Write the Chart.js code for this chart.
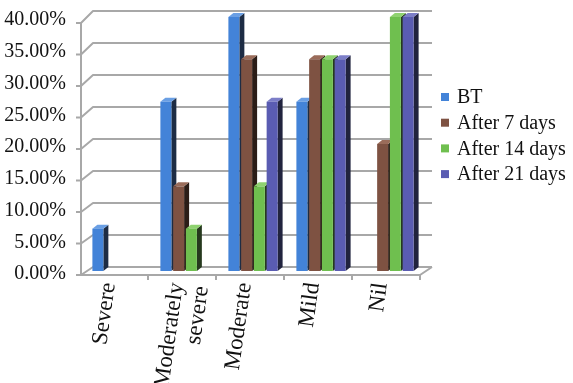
<!DOCTYPE html>
<html>
<head>
<meta charset="utf-8">
<script src="https://cdn.jsdelivr.net/npm/chart.js@4/dist/chart.umd.min.js"></script>
<style>
  html, body { margin: 0; padding: 0; background: #ffffff; }
  canvas { display: block; }
</style>
</head>
<body>
<canvas id="chart" width="573" height="383"></canvas>
<script>
// Severity categories on the x axis
const categories = ['Severe', ['Moderately', 'severe'], 'Moderate', 'Mild', 'Nil'];
const seriesNames = ['BT', 'After 7 days', 'After 14 days', 'After 21 days'];

// Percentage of patients in each category
const bt      = [6.67, 26.67, 40.00, 26.67, 0];
const after7  = [0,    13.33, 33.33, 33.33, 20.00];
const after14 = [0,     6.67, 13.33, 33.33, 40.00];
const after21 = [0,     0,    26.67, 33.33, 40.00];

// Value axis ticks
const yTickValues = [0, 5, 10, 15, 20, 25, 30, 35, 40];
const yTickLabels = ['0.00%', '5.00%', '10.00%', '15.00%', '20.00%', '25.00%', '30.00%', '35.00%', '40.00%'];

const faceColors = ['#4383d8', '#7e5242', '#6fbf4f', '#5a5cb2'];
const topColors  = ['#6a9fe4', '#9a6c5a', '#8fd270', '#7c7ec8'];
const sideColors = ['#1d2c44', '#2b1d17', '#26391e', '#21233e'];

const SERIF = "'Liberation Serif', 'Times New Roman', serif";
const DX = 5, DY = 4;   // depth offset of the bar side / top faces

// Back wall grid, left wall, floor, and the side/top faces of each bar
const depthPlugin = {
  id: 'depth',
  beforeDatasetsDraw(chart) {
    const ctx = chart.ctx;
    const ys = chart.scales.y;
    const a = chart.chartArea;
    const off = v => 4 + 2 * v / 40;
    const fx0 = a.left - 2, fx1 = a.right - 3;
    const bx0 = a.left + 10, bx1 = a.right + 9;

    ctx.save();
    ctx.strokeStyle = '#a8a8a8';
    ctx.lineWidth = 2;
    ctx.lineJoin = 'round';

    yTickValues.forEach(v => {
      const p = ys.getPixelForValue(v);
      ctx.beginPath();
      ctx.moveTo(fx0 - 5, p + off(v));
      ctx.lineTo(fx0, p + off(v));
      ctx.lineTo(bx0, p - off(v));
      ctx.lineTo(bx1, p - off(v));
      ctx.stroke();
    });

    // left axis
    ctx.beginPath();
    ctx.moveTo(fx0, ys.getPixelForValue(40) + off(40));
    ctx.lineTo(fx0, ys.getPixelForValue(0) + off(0));
    ctx.stroke();

    // floor front edge and right edge
    const p0 = ys.getPixelForValue(0);
    ctx.beginPath();
    ctx.moveTo(fx0, p0 + off(0));
    ctx.lineTo(fx1, p0 + off(0));
    ctx.lineTo(bx1, p0 - off(0));
    ctx.stroke();

    // category tick marks
    const n = categories.length;
    const slot = (a.right - a.left) / n;
    for (let i = 1; i <= n; i++) {
      const xb = a.left + i * slot - 3;
      ctx.beginPath();
      ctx.moveTo(xb, p0 + off(0));
      ctx.lineTo(xb, p0 + off(0) + 5);
      ctx.stroke();
    }

    // side and top faces of the bars
    chart.data.datasets.forEach((ds, di) => {
      const meta = chart.getDatasetMeta(di);
      meta.data.forEach((bar, j) => {
        if (!ds.data[j]) return;
        const { x, y, base, width } = bar.getProps(['x', 'y', 'base', 'width'], true);
        const x1 = x - width / 2, x2 = x + width / 2;
        ctx.fillStyle = sideColors[di];
        ctx.beginPath();
        ctx.moveTo(x2, y);
        ctx.lineTo(x2 + DX, y - DY);
        ctx.lineTo(x2 + DX, base - DY);
        ctx.lineTo(x2, base);
        ctx.closePath();
        ctx.fill();
        ctx.fillStyle = topColors[di];
        ctx.beginPath();
        ctx.moveTo(x1, y);
        ctx.lineTo(x1 + DX, y - DY);
        ctx.lineTo(x2 + DX, y - DY);
        ctx.lineTo(x2, y);
        ctx.closePath();
        ctx.fill();
      });
    });
    ctx.restore();
  }
};

// Legend on the right
const legendPlugin = {
  id: 'sideLegend',
  afterDraw(chart) {
    const ctx = chart.ctx;
    ctx.save();
    ctx.font = '20px ' + SERIF;
    ctx.textBaseline = 'middle';
    ctx.textAlign = 'left';
    chart.data.datasets.forEach((ds, i) => {
      const cy = 97 + i * 25.7;
      ctx.fillStyle = faceColors[i];
      ctx.fillRect(441, cy - 4, 8, 8);
      ctx.fillStyle = '#111111';
      ctx.fillText(ds.label, 457, cy + 1);
    });
    ctx.restore();
  }
};

const seriesData = [bt, after7, after14, after21];

new Chart(document.getElementById('chart'), {
  type: 'bar',
  data: {
    labels: categories,
    datasets: seriesData.map((d, i) => ({
      label: seriesNames[i],
      data: d,
      backgroundColor: faceColors[i],
      borderWidth: 0,
      categoryPercentage: 0.75,
      barPercentage: 0.86
    }))
  },
  options: {
    responsive: false,
    animation: false,
    devicePixelRatio: 1,
    layout: { padding: { top: 17, right: 150, left: 0, bottom: 0 } },
    plugins: {
      legend: { display: false },
      tooltip: { enabled: false }
    },
    scales: {
      x: {
        grid: { display: false, drawTicks: false },
        border: { display: false },
        ticks: {
          font: { family: SERIF, size: 23, lineHeight: 1.1 },
          color: '#111111',
          minRotation: 82,
          maxRotation: 82,
          padding: 10,
          labelOffset: -8,
          autoSkip: false
        },
        afterFit(s) { s.height = 112; s.paddingLeft = 0; s.paddingRight = 0; }
      },
      y: {
        min: 0,
        max: 40,
        grid: { display: false, drawTicks: false },
        border: { display: false },
        ticks: {
          stepSize: 5,
          callback: (v, i) => yTickLabels[i],
          font: { family: SERIF, size: 20 },
          color: '#111111',
          padding: 17,
          labelOffset: 3
        },
        afterFit(s) { s.width = 83; s.paddingTop = 0; s.paddingBottom = 0; }
      }
    }
  },
  plugins: [depthPlugin, legendPlugin]
});
</script>
</body>
</html>
